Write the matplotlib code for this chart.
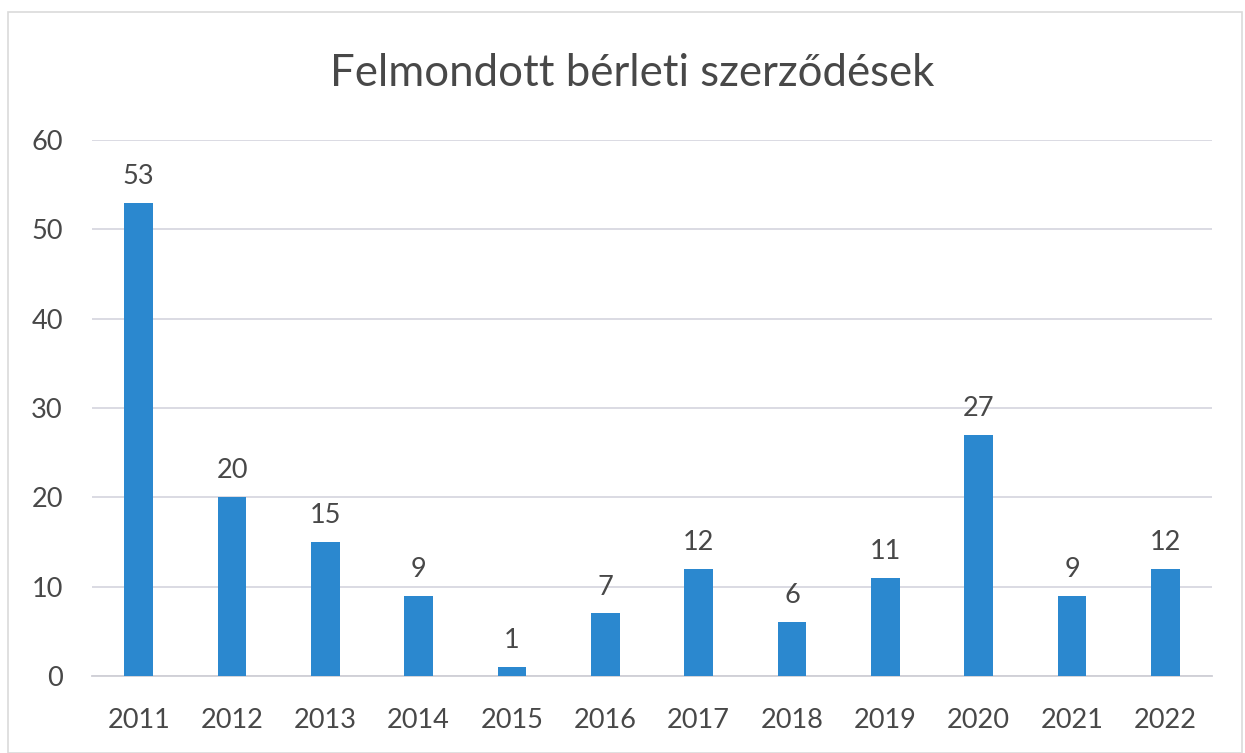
import matplotlib.pyplot as plt
from matplotlib.patches import Rectangle

# adatok
evek = ['2011', '2012', '2013', '2014', '2015', '2016', '2017', '2018', '2019', '2020', '2021', '2022']
ertekek = [53, 20, 15, 9, 1, 7, 12, 6, 11, 27, 9, 12]
y_tickek = [0, 10, 20, 30, 40, 50, 60]

plt.rcParams['font.family'] = ['Lato', 'DejaVu Sans']
szoveg_szin = '#484848'
oszlop_szin = '#2b88cf'

fig = plt.figure(figsize=(12.45, 7.53), dpi=100)
ax = fig.add_axes([0.0739, 0.1023, 0.8996, 0.7118])

x = range(len(evek))
oszlopok = ax.bar(x, ertekek, width=0.31, color=oszlop_szin, zorder=3)

# oszlop feliratok
for xi, v in zip(x, ertekek):
    ax.annotate(str(v), (xi, v), xytext=(0, 10), textcoords='offset points',
                ha='center', va='bottom', fontsize=19.5, color=szoveg_szin)

ax.set_xlim(-0.5, len(evek) - 0.5)
ax.set_ylim(0, 60)
ax.set_yticks(y_tickek)
ax.set_xticks(list(x))
ax.set_xticklabels(evek)
ax.tick_params(axis='both', length=0, labelsize=19.5, labelcolor=szoveg_szin)
ax.tick_params(axis='y', pad=21)
ax.tick_params(axis='x', pad=23)

ax.grid(axis='y', color='#d8d8e0', linewidth=1.3, zorder=0)
for s in ['top', 'right', 'left']:
    ax.spines[s].set_visible(False)
ax.spines['bottom'].set_color('#cfcfd6')
ax.spines['bottom'].set_linewidth(1.3)

fig.text(0.508, 0.903, 'Felmondott bérleti szerződések', ha='center', va='center',
         fontsize=31.5, color=szoveg_szin)

# diagram kerete
fig.patches.append(Rectangle((8 / 1245, 0), 1 - 8 / 1245 - 3 / 1245, 1 - 12 / 753,
                             transform=fig.transFigure, fill=False,
                             edgecolor='#dadada', linewidth=1.2))

fig.savefig('out.png', dpi=100)
